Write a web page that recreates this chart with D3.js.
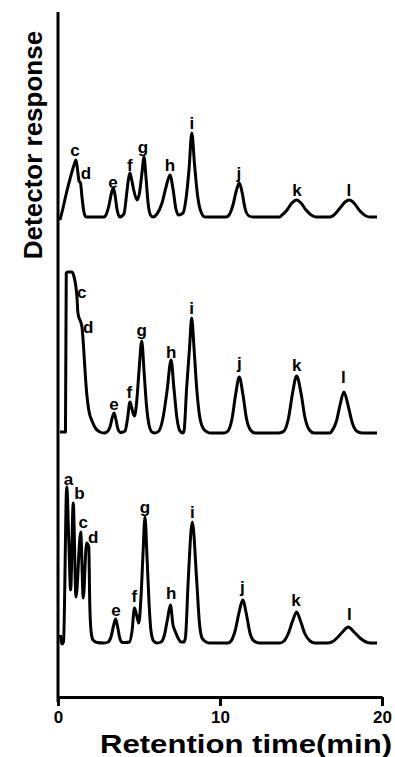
<!DOCTYPE html>
<html>
<head>
<meta charset="utf-8">
<script src="https://cdn.jsdelivr.net/npm/d3@7"></script>
<style>
  body { margin: 0; background: #fff; }
  svg { display: block; }
  text { font-family: "Liberation Sans", Arial, Helvetica, sans-serif; font-weight: bold; fill: #000; }
</style>
</head>
<body>
<div id="chart"></div>
<script>
const xTicks = [0, 10, 20];
const xLabel = "Retention time(min)";
const yLabel = "Detector response";

// chromatograms: [retention time (min), response above baseline (a.u.)]
const traceTop = [
  [0.12, -3], [0.25, 5], [0.49, 22], [0.74, 38], [0.99, 52], [1.11, 57], [1.20, 48], [1.30, 36],
  [1.39, 34], [1.48, 20], [1.60, 5], [1.73, 0], [2.84, 0], [2.96, 2], [3.15, 12], [3.30, 24],
  [3.41, 29], [3.52, 22], [3.64, 8], [3.80, 0], [4.07, 3], [4.23, 22], [4.35, 38], [4.44, 44],
  [4.54, 38], [4.66, 28], [4.88, 17], [5.03, 24], [5.19, 45], [5.31, 60], [5.43, 40], [5.56, 14],
  [5.71, 2], [5.86, 0], [6.11, 3], [6.42, 14], [6.67, 30], [6.91, 42], [7.10, 28], [7.28, 8],
  [7.44, 2], [7.72, 4], [7.90, 18], [8.09, 48], [8.26, 84], [8.43, 52], [8.61, 22], [8.83, 5],
  [9.07, 0], [10.37, 0], [10.56, 2], [10.80, 12], [11.02, 27], [11.19, 34], [11.36, 25], [11.54, 9],
  [11.79, 1], [12.04, 0], [13.70, 0], [13.77, 1], [14.14, 7], [14.44, 14], [14.74, 17], [15.00, 14],
  [15.31, 7], [15.68, 1.5], [15.93, 0], [16.79, 0], [17.04, 2], [17.41, 9], [17.72, 15], [17.98, 17],
  [18.27, 14], [18.64, 6], [19.01, 1], [19.26, 0], [19.69, 0]
];
const traceMid = [
  [0.12, 1], [0.46, 1], [0.51, 160], [0.59, 161], [0.86, 161], [0.96, 158], [1.17, 136], [1.23, 120],
  [1.48, 106], [1.57, 88], [1.67, 62], [1.77, 40], [1.91, 22], [2.10, 12], [2.35, 4], [2.59, 1],
  [2.84, 0], [3.02, 1], [3.21, 6], [3.36, 16], [3.46, 20], [3.57, 14], [3.70, 4], [3.86, 0.5],
  [4.01, 1], [4.14, 2], [4.29, 14], [4.44, 31], [4.54, 26], [4.63, 20], [4.72, 17], [4.85, 30],
  [5.00, 62], [5.17, 92], [5.31, 62], [5.46, 28], [5.62, 8], [5.80, 1], [5.99, 0], [6.23, 2],
  [6.48, 15], [6.73, 42], [6.98, 73], [7.16, 44], [7.35, 14], [7.53, 2], [7.72, 0], [7.78, 2],
  [7.94, 45], [8.12, 85], [8.25, 115], [8.40, 84], [8.56, 45], [8.73, 18], [8.95, 5], [9.20, 1],
  [9.44, 0], [10.25, 0], [10.49, 2], [10.74, 14], [10.96, 38], [11.19, 56], [11.42, 38], [11.64, 14],
  [11.88, 3], [12.16, 0], [13.64, 0], [13.95, 2], [14.23, 15], [14.48, 40], [14.73, 57], [15.00, 40],
  [15.25, 15], [15.52, 3], [15.80, 0], [16.79, 0], [16.91, 2], [17.19, 12], [17.41, 28], [17.65, 41],
  [17.90, 28], [18.15, 11], [18.43, 2], [18.77, 0], [19.69, 0]
];
const traceBottom = [
  [0.15, 8], [0.25, -1], [0.34, 1], [0.54, 156], [0.67, 100], [0.78, 53], [0.94, 140], [1.11, 46],
  [1.40, 111], [1.56, 45], [1.76, 100], [1.90, 96], [1.96, 40], [2.04, 12], [2.16, 3], [2.41, 0.5],
  [2.84, 0], [3.09, 1], [3.27, 6], [3.44, 18], [3.56, 24], [3.67, 17], [3.83, 4], [3.98, 0.5],
  [4.17, 0.5], [4.41, 1], [4.57, 12], [4.72, 35], [4.85, 28], [4.99, 20], [5.12, 45], [5.25, 90],
  [5.37, 126], [5.49, 88], [5.62, 40], [5.74, 12], [5.90, 2], [6.11, 0], [6.36, 1], [6.57, 8],
  [6.76, 24], [6.94, 38], [7.10, 18], [7.25, 11], [7.44, 4], [7.59, 1], [7.78, 1], [7.87, 6],
  [8.04, 63], [8.29, 121], [8.56, 63], [8.73, 20], [8.89, 5], [9.14, 1], [9.38, 0], [10.49, 0],
  [10.68, 2], [10.93, 12], [11.17, 30], [11.40, 43], [11.64, 28], [11.85, 10], [12.10, 2], [12.41, 0],
  [13.70, 0], [13.95, 2], [14.23, 10], [14.48, 22], [14.73, 31], [14.97, 22], [15.22, 10], [15.56, 2],
  [15.86, 0], [16.60, 0], [16.91, 1], [17.22, 5], [17.56, 11], [17.92, 16], [18.27, 11], [18.64, 5],
  [19.01, 1], [19.32, 0], [19.69, 0]
];

// peak letters: [letter, time, response]
const labelsTop = [
  ["c", 1.05, 67], ["d", 1.73, 44], ["e", 3.40, 35], ["f", 4.44, 52], ["g", 5.25, 70],
  ["h", 6.91, 52], ["i", 8.27, 94], ["j", 11.17, 44], ["k", 14.75, 27], ["l", 17.96, 27]
];
const labelsMid = [
  ["c", 1.46, 141], ["d", 1.87, 106], ["e", 3.46, 29], ["f", 4.40, 41], ["g", 5.17, 103],
  ["h", 6.98, 81], ["i", 8.25, 125], ["j", 11.19, 70], ["k", 14.73, 68], ["l", 17.61, 56]
];
const labelsBottom = [
  ["a", 0.64, 164], ["b", 1.32, 150], ["c", 1.56, 121], ["d", 2.18, 106], ["e", 3.58, 33],
  ["f", 4.71, 47], ["g", 5.37, 136], ["h", 6.98, 50], ["i", 8.29, 131], ["j", 11.38, 56],
  ["k", 14.69, 43], ["l", 17.98, 29]
];

const width = 395, height = 757;
const plotLeft = 58, plotRight = 382, plotTop = 12, plotBottom = 697;

const svg = d3.select("#chart").append("svg")
  .attr("width", width)
  .attr("height", height);

const x = d3.scaleLinear().domain([0, 20]).range([plotLeft, plotRight]);
const y = d3.scaleLinear().domain([0, 685]).range([plotBottom, plotTop]);

// baselines of the stacked traces, in response units
const traces = [
  { data: traceTop, labels: labelsTop, offset: 480 },
  { data: traceMid, labels: labelsMid, offset: 264 },
  { data: traceBottom, labels: labelsBottom, offset: 54 }
];

const line = d3.line()
  .x(d => x(d[0]))
  .y(d => y(d[1]))
  .curve(d3.curveMonotoneX);

traces.forEach(tr => {
  const g = svg.append("g");
  g.append("path")
    .datum(tr.data.map(d => [d[0], d[1] + tr.offset]))
    .attr("fill", "none")
    .attr("stroke", "#000")
    .attr("stroke-width", 3)
    .attr("stroke-linejoin", "round")
    .attr("d", line);
  g.selectAll("text")
    .data(tr.labels)
    .join("text")
    .attr("x", d => x(d[1]))
    .attr("y", d => y(d[2] + tr.offset))
    .attr("text-anchor", "middle")
    .attr("dominant-baseline", "central")
    .attr("font-size", 17)
    .text(d => d[0]);
});

// axes
const xAxis = svg.append("g")
  .attr("transform", `translate(0,${plotBottom})`)
  .call(d3.axisBottom(x).tickValues(xTicks).tickSize(9).tickSizeOuter(0).tickFormat(d3.format("d")));
xAxis.select(".domain").attr("stroke-width", 3);
xAxis.selectAll(".tick line").attr("stroke-width", 3);
xAxis.selectAll(".tick text")
  .attr("font-size", 17)
  .attr("font-family", null)
  .attr("dy", "0.85em");

svg.append("line")
  .attr("x1", plotLeft).attr("x2", plotLeft)
  .attr("y1", plotTop).attr("y2", plotBottom + 5)
  .attr("stroke", "#000")
  .attr("stroke-width", 3);

svg.append("text")
  .attr("x", 100)
  .attr("y", 753)
  .attr("font-size", 25)
  .attr("textLength", 292)
  .attr("lengthAdjust", "spacingAndGlyphs")
  .text(xLabel);

svg.append("text")
  .attr("transform", "translate(42,145) rotate(-90)")
  .attr("text-anchor", "middle")
  .attr("font-size", 26)
  .text(yLabel);
</script>
</body>
</html>
